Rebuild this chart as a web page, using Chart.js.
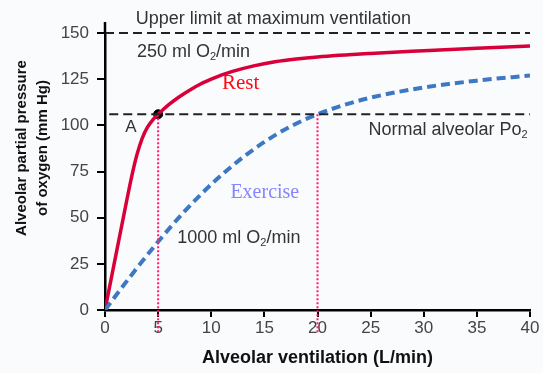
<!DOCTYPE html>
<html>
<head>
<meta charset="utf-8">
<script src="https://cdn.jsdelivr.net/npm/chart.js@4.4.1/dist/chart.umd.min.js"></script>
<style>
  html, body { margin: 0; padding: 0; background: #fafbfc; }
  #wrap { width: 543px; height: 373px; position: relative; }
</style>
</head>
<body>
<div id="wrap"><canvas id="chart"></canvas></div>
<script>
// values
const restX = [0, 1, 2, 2.5, 3, 3.5, 4, 4.5, 5, 5.5, 6, 7, 8, 9, 10, 11, 12, 14, 16, 18, 20, 25, 30, 35, 40];
const restY = [0, 29, 58, 72, 84, 93, 99, 103, 106, 108.7, 111.2, 115.5, 119.2, 122.4, 125, 127.3, 129.2, 132.2, 134.4, 135.9, 137, 138.9, 140.4, 141.8, 143];
const exerciseX = [0, 2.5, 5, 7.5, 10, 12.5, 15, 17.5, 20, 22.5, 25, 30, 35, 40];
const exerciseY = [0, 19, 37, 53.5, 68, 80.5, 91, 99.5, 106, 111, 115, 120.5, 124.2, 127];
const upperLimit = 150;
const normalPo2 = 106;
const markX = [5, 20];

const xTicks = { min: 0, max: 40, step: 5 };
const yTicks = { min: 0, max: 150, step: 25 };

const yTitle = ["Alveolar partial pressure", "of oxygen (mm Hg)"];
const xTitle = "Alveolar ventilation (L/min)";

const sans = " 'Liberation Sans', Arial, sans-serif";
const serif = " 'Liberation Serif', 'Times New Roman', serif";

// text notes placed in data units
const notes = [
  { parts: [["Upper limit at maximum ventilation"]], x: 2.9, y: 157.5, size: 18, fam: sans, color: "#333" },
  { parts: [["250 ml O"], ["2", true], ["/min"]], x: 3.0, y: 139.7, size: 18, fam: sans, color: "#333" },
  { parts: [["Rest"]], x: 11.0, y: 122.5, size: 21, fam: serif, color: "#ff0a14" },
  { parts: [["A"]], x: 1.9, y: 99, size: 17, fam: sans, color: "#333" },
  { parts: [["Normal alveolar Po"], ["2", true]], x: 24.8, y: 97.5, size: 18, fam: sans, color: "#333" },
  { parts: [["Exercise"]], x: 11.8, y: 63.3, size: 20, fam: serif, color: "#8585ff" },
  { parts: [["1000 ml O"], ["2", true], ["/min"]], x: 6.8, y: 39, size: 18, fam: sans, color: "#333" }
];

const toPts = (xs, ys) => xs.map((x, i) => ({ x, y: ys[i] }));

function drawNote(ctx, n, px, py) {
  ctx.fillStyle = n.color;
  ctx.textBaseline = "middle";
  ctx.textAlign = "left";
  let x = px;
  for (const [t, sub] of n.parts) {
    ctx.font = (sub ? Math.round(n.size * 0.62) : n.size) + "px" + n.fam;
    ctx.fillText(t, x, sub ? py + n.size * 0.3 : py);
    x += ctx.measureText(t).width;
  }
}

const notesPlugin = {
  id: "notes",
  afterDraw(chart) {
    const ctx = chart.ctx;
    const xs = chart.scales.x, ys = chart.scales.y;
    ctx.save();
    // y axis runs a little past the top tick
    const ax = xs.getPixelForValue(xTicks.min);
    ctx.strokeStyle = "#000";
    ctx.lineWidth = 2.5;
    ctx.beginPath();
    ctx.moveTo(ax, ys.getPixelForValue(yTicks.max));
    ctx.lineTo(ax, ys.getPixelForValue(yTicks.max) - 11);
    ctx.stroke();

    for (const n of notes) drawNote(ctx, n, xs.getPixelForValue(n.x), ys.getPixelForValue(n.y));
    // y axis title, two rotated lines
    ctx.fillStyle = "#111";
    ctx.font = "bold 15px" + sans;
    ctx.textAlign = "center";
    ctx.textBaseline = "middle";
    yTitle.forEach((line, i) => {
      ctx.save();
      ctx.translate(22 + i * 20.5, 148);
      ctx.rotate(-Math.PI / 2);
      ctx.fillText(line, 0, 0);
      ctx.restore();
    });
    ctx.restore();
  }
};

const bgPlugin = {
  id: "bg",
  beforeDraw(chart) {
    const ctx = chart.ctx;
    ctx.save();
    ctx.fillStyle = "#fafbfc";
    ctx.fillRect(0, 0, chart.width, chart.height);
    ctx.restore();
  }
};

const datasets = [
  {
    label: "Upper limit",
    data: [{ x: 0, y: upperLimit }, { x: 40, y: upperLimit }],
    borderColor: "#222", borderWidth: 2, borderDash: [9, 5], pointRadius: 0, clip: false
  },
  {
    label: "Normal alveolar Po2",
    data: [{ x: 0.4, y: normalPo2 }, { x: 40, y: normalPo2 }],
    borderColor: "#222", borderWidth: 2, borderDash: [9, 5], pointRadius: 0
  },
  ...markX.map((mx) => ({
    label: "mark " + mx,
    data: [{ x: mx, y: normalPo2 }, { x: mx, y: -13 }],
    borderColor: "#ff1a6e", borderWidth: 2, borderDash: [2, 2], pointRadius: 0, clip: false
  })),
  {
    label: "Exercise",
    data: toPts(exerciseX, exerciseY),
    borderColor: "#3c78c3", borderWidth: 4, borderDash: [9, 5],
    pointRadius: 0, cubicInterpolationMode: "monotone"
  },
  {
    label: "Rest",
    data: toPts(restX, restY),
    borderColor: "#d9003a", borderWidth: 3.5,
    pointRadius: 0, cubicInterpolationMode: "monotone"
  },
  {
    label: "A",
    data: [{ x: markX[0], y: normalPo2 }],
    pointRadius: 4.5, pointBackgroundColor: "#000", pointBorderColor: "#000", showLine: false
  }
];

const tickFont = { family: "'Liberation Sans', Arial", size: 17 };

new Chart(document.getElementById("chart"), {
  type: "line",
  data: { datasets },
  plugins: [bgPlugin, notesPlugin],
  options: {
    responsive: true,
    maintainAspectRatio: false,
    animation: false,
    layout: { padding: { top: 33, right: 13, left: 0, bottom: 0 } },
    plugins: { legend: { display: false }, tooltip: { enabled: false } },
    scales: {
      x: {
        type: "linear", min: xTicks.min, max: xTicks.max,
        ticks: { stepSize: xTicks.step, color: "#444", font: tickFont, padding: 1 },
        grid: { drawOnChartArea: false, color: "#000", lineWidth: 2, tickLength: 7 },
        border: { color: "#000", width: 2.5 },
        title: { display: true, text: xTitle, color: "#111", font: { family: "'Liberation Sans', Arial", size: 18, weight: "bold" }, padding: { top: 3 } },
        afterFit(s) { s.height = 63; }
      },
      y: {
        type: "linear", min: yTicks.min, max: yTicks.max,
        ticks: { stepSize: yTicks.step, color: "#444", font: tickFont, padding: 8 },
        grid: { drawOnChartArea: false, color: "#000", lineWidth: 2, tickLength: 8 },
        border: { color: "#000", width: 2.5 },
        afterFit(s) { s.width = 105; }
      }
    }
  }
});
</script>
</body>
</html>
